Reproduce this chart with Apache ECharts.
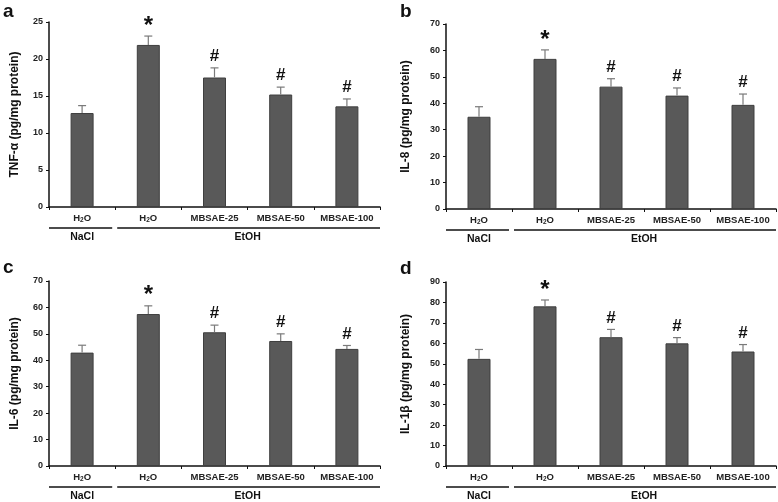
<!DOCTYPE html>
<html>
<head>
<meta charset="utf-8">
<script src="https://cdn.jsdelivr.net/npm/echarts@6/dist/echarts.min.js"></script>
<style>html,body{margin:0;padding:0;background:#fff}#main{width:778px;height:502px}</style>
</head>
<body>
<div id="main"></div>
<script>
var categories = ['H2O', 'H2O', 'MBSAE-25', 'MBSAE-50', 'MBSAE-100'];
var groupLabels = ['NaCl', 'EtOH'];
var panelLetters = ['a', 'b', 'c', 'd'];
var yTitles = ['TNF-\u03b1 (pg/mg protein)', 'IL-8 (pg/mg protein)', 'IL-6 (pg/mg protein)', 'IL-1\u03b2 (pg/mg protein)'];
var yMax = [25, 70, 70, 90];
var yInterval = [5, 10, 10, 10];
var signs = ['', '*', '#', '#', '#'];

var tnfMean = [12.7, 21.9, 17.5, 15.2, 13.6];
var tnfErr = [13.7, 23.1, 18.8, 16.2, 14.6];
var il8Mean = [34.9, 56.8, 46.3, 42.9, 39.4];
var il8Err = [38.7, 60.2, 49.3, 45.8, 43.5];
var il6Mean = [42.9, 57.5, 50.6, 47.3, 44.3];
var il6Err = [45.7, 60.6, 53.3, 50.0, 45.6];
var il1bMean = [52.4, 78.1, 63.0, 60.0, 56.0];
var il1bErr = [57.0, 81.2, 66.8, 62.8, 59.4];

var means = [tnfMean, il8Mean, il6Mean, il1bMean];
var errs = [tnfErr, il8Err, il6Err, il1bErr];

var FONT = "'Liberation Sans', Arial, sans-serif";
var grids = [
  {left: 49, top: 22, width: 331, height: 185},
  {left: 446, top: 24, width: 330, height: 185},
  {left: 49, top: 281, width: 331, height: 185},
  {left: 446, top: 282, width: 330, height: 184}
];
var nameGaps = [28, 34, 28, 34];

var chart = echarts.init(document.getElementById('main'));
var xAxes = [], yAxes = [], series = [];
for (var p = 0; p < 4; p++) {
  xAxes.push({
    type: 'category', gridIndex: p, data: categories,
    axisLine: {lineStyle: {color: '#111', width: 1.5}},
    axisTick: {show: true, length: 3, lineStyle: {color: '#111'}},
    axisLabel: {
      interval: 0, hideOverlap: false,
      margin: 6, color: '#222', fontFamily: FONT, fontWeight: 'bold', fontSize: 9.5,
      formatter: function (v) { return v === 'H2O' ? '{a|H}{s|2}{a|O}' : '{a|' + v + '}'; },
      rich: {
        a: {fontFamily: FONT, fontWeight: 'bold', fontSize: 9.5, color: '#222'},
        s: {fontFamily: FONT, fontWeight: 'bold', fontSize: 6.5, color: '#222', verticalAlign: 'bottom', padding: [4, 0, 0, 0]}
      }
    }
  });
  yAxes.push({
    type: 'value', gridIndex: p, min: 0, max: yMax[p], interval: yInterval[p],
    name: yTitles[p], nameLocation: 'middle', nameGap: nameGaps[p], nameRotate: 90,
    nameTextStyle: {fontFamily: FONT, fontWeight: 'bold', fontSize: 12, color: '#111'},
    axisLine: {show: true, lineStyle: {color: '#111', width: 1.5}},
    axisTick: {show: true, length: 3, lineStyle: {color: '#111'}},
    splitLine: {show: false},
    axisLabel: {margin: 6, color: '#222', fontFamily: FONT, fontWeight: 'bold', fontSize: 9}
  });
  series.push({
    type: 'bar', xAxisIndex: p, yAxisIndex: p, data: means[p], barWidth: 23,
    itemStyle: {color: '#595959', borderColor: '#3f3f3f', borderWidth: 1},
    silent: true, animation: false
  });
  var ed = [];
  for (var i = 0; i < categories.length; i++) ed.push([i, means[p][i], errs[p][i], signs[i]]);
  series.push({
    type: 'custom', xAxisIndex: p, yAxisIndex: p, data: ed, animation: false, silent: true, z: 5,
    renderItem: function (params, api) {
      var x = api.value(0);
      var lo = api.coord([x, api.value(1)]);
      var hi = api.coord([x, api.value(2)]);
      var sign = api.value(3);
      var children = [
        {type: 'line', shape: {x1: lo[0], y1: lo[1], x2: hi[0], y2: hi[1]}, style: {stroke: '#7a7a7a', lineWidth: 1.2}},
        {type: 'line', shape: {x1: hi[0] - 4, y1: hi[1], x2: hi[0] + 4, y2: hi[1]}, style: {stroke: '#7a7a7a', lineWidth: 1.2}}
      ];
      if (sign) {
        children.push({type: 'text', style: {
          text: sign, x: hi[0], y: hi[1] - (sign === '*' ? -2 : 3),
          textAlign: 'center', textVerticalAlign: 'bottom',
          font: 'bold ' + (sign === '*' ? 24 : 17) + 'px ' + FONT, fill: '#111'
        }});
      }
      return {type: 'group', children: children};
    }
  });
}

chart.setOption({
  animation: false,
  grid: grids,
  xAxis: xAxes,
  yAxis: yAxes,
  series: series
});

var graphics = [];
var letterPos = [[3, 2], [400, 2], [3, 258], [400, 259]];
for (var p = 0; p < 4; p++) {
  graphics.push({type: 'text', left: letterPos[p][0], top: letterPos[p][1],
    style: {text: panelLetters[p], font: 'bold 19px ' + FONT, fill: '#111'}});
  var c0 = chart.convertToPixel({xAxisIndex: p}, 0);
  var c1 = chart.convertToPixel({xAxisIndex: p}, 1);
  var c4 = chart.convertToPixel({xAxisIndex: p}, 4);
  var bw = c1 - c0;
  var base = chart.convertToPixel({yAxisIndex: p}, 0);
  var ly = base + 21;
  var leftEdge = c0 - bw / 2, b1 = c0 + bw / 2, rightEdge = c4 + bw / 2;
  graphics.push({type: 'line', shape: {x1: leftEdge, y1: ly, x2: b1 - 3, y2: ly}, style: {stroke: '#111', lineWidth: 1.5}});
  graphics.push({type: 'line', shape: {x1: b1 + 2, y1: ly, x2: rightEdge, y2: ly}, style: {stroke: '#111', lineWidth: 1.5}});
  graphics.push({type: 'text', x: c0, y: ly + 4, style: {text: groupLabels[0], textAlign: 'center', textVerticalAlign: 'top', font: 'bold 10.5px ' + FONT, fill: '#111'}});
  graphics.push({type: 'text', x: (c1 + c4) / 2, y: ly + 4, style: {text: groupLabels[1], textAlign: 'center', textVerticalAlign: 'top', font: 'bold 10.5px ' + FONT, fill: '#111'}});
}
chart.setOption({graphic: graphics});
</script>
</body>
</html>
